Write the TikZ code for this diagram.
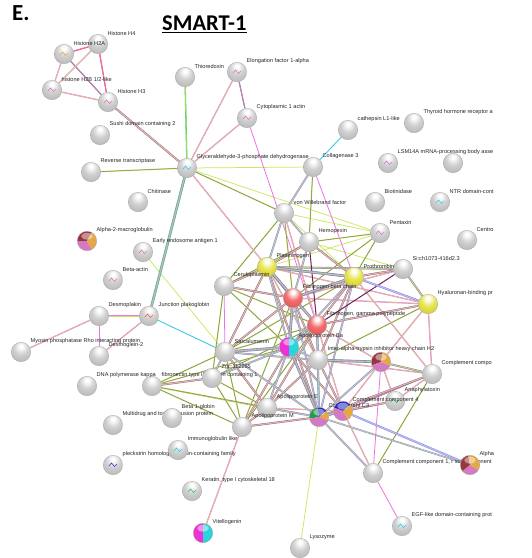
\documentclass[tikz,border=0pt]{standalone}
\usepackage{fontspec}
\setsansfont{Liberation Sans}
\newfontfamily\titlefont{Carlito}
\pgfdeclarelayer{edgelayer}
\pgfdeclarelayer{labellayer}
\pgfdeclarelayer{toplabels}
\pgfsetlayers{edgelayer,labellayer,main,toplabels}
\definecolor{pinkE}{RGB}{238,115,228}
\definecolor{limeE}{RGB}{205,232,95}
\definecolor{cyanE}{RGB}{60,202,234}
\definecolor{grayE}{RGB}{125,125,115}
\definecolor{greenE}{RGB}{50,200,90}
\definecolor{darkE}{RGB}{110,35,90}
\definecolor{lavE}{RGB}{150,150,232}
\definecolor{redE}{RGB}{235,90,90}
\definecolor{blueE}{RGB}{60,60,210}
\definecolor{gA}{RGB}{208,208,208}
\definecolor{gB}{RGB}{182,182,182}
\definecolor{gC}{RGB}{135,135,135}
\definecolor{yA}{RGB}{232,230,82}
\definecolor{yB}{RGB}{208,204,46}
\definecolor{yC}{RGB}{150,145,30}
\definecolor{rA}{RGB}{242,112,112}
\definecolor{rB}{RGB}{225,80,80}
\definecolor{rC}{RGB}{170,50,50}
\definecolor{mag}{RGB}{236,50,212}
\definecolor{cya}{RGB}{40,212,222}
\definecolor{brn}{RGB}{150,55,60}
\definecolor{org}{RGB}{228,168,70}
\definecolor{pnk}{RGB}{212,122,192}
\definecolor{grn}{RGB}{40,150,80}
\definecolor{blu}{RGB}{40,40,190}
\pgfdeclareradialshading{gsph}{\pgfpoint{0bp}{16bp}}{color(0bp)=(white); color(4bp)=(white); color(18bp)=(gA); color(36bp)=(gB); color(50bp)=(gC); color(70bp)=(gC)}
\pgfdeclareradialshading{ysph}{\pgfpoint{0bp}{16bp}}{color(0bp)=(white); color(4bp)=(white); color(18bp)=(yA); color(36bp)=(yB); color(50bp)=(yC); color(70bp)=(yC)}
\pgfdeclareradialshading{rsph}{\pgfpoint{0bp}{16bp}}{color(0bp)=(white); color(4bp)=(white); color(18bp)=(rA); color(36bp)=(rB); color(50bp)=(rC); color(70bp)=(rC)}
\newcommand\lblfont{\sffamily\fontsize{5.6}{6.5}\selectfont}
\newcommand\mklabel[2]{\node[lbl] (#1-t) at ([shift={(9.5,-10.5)}]#1.center) {#2};}
\newcommand\piesect[4]{\fill[#2] (#1.center) -- ([shift={(#3:14pt)}]#1.center) -- ([shift={({#3+(#4-#3)/4}:14pt)}]#1.center) -- ([shift={({#3+(#4-#3)/2}:14pt)}]#1.center) -- ([shift={({#3+3*(#4-#3)/4}:14pt)}]#1.center) -- ([shift={(#4:14pt)}]#1.center) -- cycle;}
\newcommand\piefin[1]{\fill[white, opacity=0.45] ([shift={(0,-4.8)}]#1.center) ellipse[x radius=5.8, y radius=3.4]; \draw[black!35, line width=0.3pt] (#1.center) circle[radius=9.75pt];}
\newcommand\nodeicon[2]{\draw[#2, line width=0.6pt, line cap=round] ([shift={(-4,1)}]#1.center) -- ([shift={(-1.5,-2)}]#1.center) -- ([shift={(1.5,1.5)}]#1.center) -- ([shift={(4,-1)}]#1.center);}
\begin{document}
\begin{tikzpicture}[x=1pt,y=-1pt,
  ball/.style={circle,minimum size=19.5pt,inner sep=0pt,shade,shading=gsph,draw=black!35,line width=0.3pt},
  yball/.style={ball,shading=ysph},
  rball/.style={ball,shading=rsph},
  pienode/.style={circle,minimum size=19.5pt,inner sep=0pt,fill=white},
  lbl/.style={anchor=west,inner sep=0pt,font=\lblfont,text=black!85},
  yl/.style={draw=limeE,line width=0.75pt},
  cy/.style={draw=cyanE,line width=0.9pt},
  pk/.style={draw=pinkE,line width=0.8pt},
  ky/.style={draw=limeE,line width=0.4pt,double=grayE,double distance=0.5pt},
  kp/.style={draw=grayE,line width=0.35pt,double=pinkE,double distance=0.5pt},
  rp/.style={draw=redE,line width=0.4pt,double=pinkE,double distance=0.5pt},
  gy/.style={draw=greenE,line width=0.4pt,double=limeE,double distance=0.5pt},
  py/.style={draw=pinkE,line width=0.4pt,double=limeE,double distance=0.45pt},
  pyk/.style={py,preaction={draw=grayE,line width=1.9pt}},
  pyc/.style={py,preaction={draw=cyanE,line width=1.9pt}},
  pyg/.style={py,preaction={draw=greenE,line width=1.9pt}},
  dk/.style={draw=darkE,line width=1pt},
  lav/.style={draw=lavE,line width=0.7pt,double=lavE!55!white,double distance=0.7pt},
  lavy/.style={draw=lavE,line width=0.6pt,double=limeE,double distance=0.5pt},
  full/.style={py,preaction={draw=grayE,line width=2.6pt},preaction={draw=cyanE,line width=1.9pt}},
  pgc/.style={py,preaction={draw=greenE,line width=2.6pt},preaction={draw=cyanE,line width=1.9pt}}
]
\useasboundingbox (0,0) rectangle (532,558);

% ---------- nodes ----------
\node[ball] (h2a) at (64,54) {};
\node[ball] (h4) at (98,44) {};
\node[ball] (h2b) at (52,90) {};
\node[ball] (h3) at (108,102) {};
\node[ball] (sushi) at (100,135) {};
\node[ball] (rt) at (91,172) {};
\node[ball] (gapdh) at (187,168) {};
\node[ball] (trx) at (185,77) {};
\node[ball] (ef1a) at (237,72) {};
\node[ball] (actin1) at (247,118) {};
\node[ball] (cath) at (348,130) {};
\node[ball] (thr) at (414,123) {};
\node[ball] (colg) at (313,167) {};
\node[ball] (lsm) at (388,163) {};
\node[ball] (nolab) at (453,163) {};
\node[ball] (chit) at (138,202) {};
\node[ball] (biot) at (375,202) {};
\node[ball] (ntr) at (440,202) {};
\node[ball] (vwf) at (284,213) {};
\node[ball] (pent) at (380,233) {};
\node[ball] (centro) at (467,240) {};
\node[ball] (hpx) at (309,242) {};
\node[pienode] (a2m) at (87,241) {};
\node[ball] (eea1) at (143,252) {};
\node[yball] (plg) at (267,267) {};
\node[ball] (sich) at (403,269) {};
\node[yball] (pt) at (354,277) {};
\node[ball] (bact) at (113,280) {};
\node[ball] (cp) at (224,286) {};
\node[rball] (fgb) at (293,298) {};
\node[yball] (habp) at (428,304) {};
\node[ball] (dsp) at (99,316) {};
\node[ball] (jup) at (149,316) {};
\node[rball] (fgg) at (317,325) {};
\node[pienode] (apoba) at (289,347) {};
\node[ball] (srl) at (225,352) {};
\node[ball] (mprip) at (21,352) {};
\node[ball] (dsg2) at (99,356) {};
\node[ball] (itih2) at (318,360) {};
\node[pienode] (browna) at (381,362) {};
\node[ball] (cc) at (432,374) {};
\node[ball] (zgc) at (212,378) {};
\node[ball] (fn) at (152,386) {};
\node[ball] (dnapk) at (87,386) {};
\node[ball] (apoe) at (267,408) {};
\node[pienode] (c4) at (343,411) {};
\node[pienode] (c3) at (319,417) {};
\node[ball] (ana) at (395,401) {};
\node[ball] (hbb) at (172,418) {};
\node[ball] (mate) at (113,425) {};
\node[ball] (apom) at (242,427) {};
\node[ball] (igl) at (178,450) {};
\node[ball] (plekh) at (113,465) {};
\node[ball] (c1r) at (373,473) {};
\node[pienode] (alpha) at (470,465) {};
\node[ball] (krt) at (192,491) {};
\node[pienode] (vtg) at (203,533) {};
\node[ball] (egf) at (402,526) {};
\node[ball] (lyz) at (300,548) {};

% ---------- labels hidden partly behind later nodes ----------
\begin{pgfonlayer}{labellayer}
\begin{scope}
\clip (0,0) rectangle (496,558);
\mklabel{fn}{fibronectin type III domain containing 1}
\mklabel{c3}{Complement C3}
\mklabel{mate}{Multidrug and toxin extrusion protein}
\mklabel{plekh}{pleckstrin homology domain-containing family}
\mklabel{c1r}{Complement component 1, r subcomponent}
\end{scope}
\end{pgfonlayer}

% ---------- labels on top ----------
\begin{pgfonlayer}{toplabels}
\begin{scope}
\clip (0,0) rectangle (496,558);
\mklabel{h2a}{Histone H2A}
\mklabel{h4}{Histone H4}
\mklabel{h2b}{histone H2B 1/2-like}
\mklabel{h3}{Histone H3}
\mklabel{sushi}{Sushi domain containing 2}
\mklabel{rt}{Reverse transcriptase}
\mklabel{gapdh}{Glyceraldehyde-3-phosphate dehydrogenase}
\mklabel{trx}{Thioredoxin}
\mklabel{ef1a}{Elongation factor 1-alpha}
\mklabel{actin1}{Cytoplasmic 1 actin}
\mklabel{cath}{cathepsin L1-like}
\mklabel{thr}{Thyroid hormone receptor a}
\mklabel{colg}{Collagenase 3}
\mklabel{lsm}{LSM14A mRNA-processing body asse}
\mklabel{chit}{Chitinase}
\mklabel{biot}{Biotinidase}
\mklabel{ntr}{NTR domain-cont}
\mklabel{vwf}{von Willebrand factor}
\mklabel{pent}{Pentaxin}
\mklabel{centro}{Centro}
\mklabel{hpx}{Hemopexin}
\mklabel{a2m}{Alpha-2-macroglobulin}
\mklabel{eea1}{Early endosome antigen 1}
\mklabel{plg}{Plasminogen}
\mklabel{sich}{Si:ch1073-416d2.3}
\mklabel{pt}{Prothrombin}
\mklabel{bact}{Beta-actin}
\mklabel{cp}{Ceruloplasmin}
\mklabel{fgb}{Fibrinogen beta chain}
\mklabel{habp}{Hyaluronan-binding pr}
\mklabel{dsp}{Desmoplakin}
\mklabel{jup}{Junction plakoglobin}
\mklabel{fgg}{Fibrinogen, gamma polypeptide}
\mklabel{apoba}{Apolipoprotein Ba}
\mklabel{srl}{Sarcalumenin}
\mklabel{mprip}{Myosin phosphatase Rho interacting protein}
\mklabel{dsg2}{Desmoglein-2}
\mklabel{itih2}{Inter-alpha-trypsin inhibitor heavy chain H2}
\mklabel{cc}{Complement compo}
\mklabel{zgc}{Zgc:112265}
\mklabel{dnapk}{DNA polymerase kappa}
\mklabel{apoe}{Apolipoprotein E}
\mklabel{c4}{Complement component 4}
\mklabel{ana}{Anaphylatoxin}
\mklabel{hbb}{Beta 1-globin}
\mklabel{apom}{Apolipoprotein M}
\mklabel{igl}{Immunoglobulin like}
\mklabel{alpha}{Alpha}
\mklabel{krt}{Keratin, type I cytoskeletal 18}
\mklabel{vtg}{Vitellogenin}
\mklabel{egf}{EGF-like domain-containing prot}
\mklabel{lyz}{Lysozyme}
\end{scope}
\end{pgfonlayer}

% ---------- edges ----------
\begin{pgfonlayer}{edgelayer}
\fill[white] (0,0) rectangle (532,558);
\foreach \p/\q in {gapdh/colg, gapdh/pent, vwf/pent, vwf/pt, hpx/sich, pent/plg, srl/eea1, c3/lyz}
  \draw[yl] (\p) -- (\q);
\foreach \p/\q in {colg/cath, srl/jup}
  \draw[cy] (\p) -- (\q);
\foreach \p/\q in {actin1/fgg, colg/pt, cp/srl, browna/c1r, c1r/egf, dsp/dsg2}
  \draw[pk] (\p) -- (\q);
\foreach \p/\q in {gapdh/rt, gapdh/vwf, colg/hpx, vwf/fgb, vwf/cp, hpx/pent, hpx/cp, pent/pt, pent/fgb, plg/zgc, pt/srl, habp/itih2, cp/fgg, cp/apoba, cp/zgc, fgb/apom, fgg/srl, fgg/zgc, fgg/apom, apoba/fn, srl/fn, srl/apom, cc/c1r, apoe/zgc, apoe/fn, apom/fn, apom/zgc, fn/c3}
  \draw[ky] (\p) -- (\q);
\foreach \p/\q in {h2a/h3, ef1a/actin1, cc/c4}
  \draw[kp] (\p) -- (\q);
\foreach \p/\q in {h2a/h4, h4/h3}
  \draw[rp] (\p) -- (\q);
\draw[gy] (gapdh) -- (trx);
\foreach \p/\q in {h2a/h2b, h4/h2b, h2b/h3, gapdh/ef1a, gapdh/actin1, gapdh/plg, vwf/fgg, plg/habp, plg/itih2, pt/cc, sich/fgb, habp/fgb, habp/cc, habp/browna, fgg/c4, fgg/browna, itih2/cc, browna/c4, browna/ana, cc/ana, c4/c1r, c3/ana, c4/apoe, apom/vtg, jup/dsg2, dsp/mprip}
  \draw[py] (\p) -- (\q);
\foreach \p/\q in {h3/gapdh, hpx/plg, hpx/pt, plg/cp, plg/srl, plg/c3, pt/sich, pt/fgg, pt/itih2, habp/fgg, cp/fgb, fgb/srl, fgb/itih2, fgg/itih2, fgg/apoe, apoba/apom, apoba/c4, srl/apoe, itih2/c4, itih2/apoe, cc/c3, c4/ana, c3/apom, apoe/apom, zgc/fn}
  \draw[pyk] (\p) -- (\q);
\foreach \p/\q in {colg/vwf, vwf/hpx, vwf/plg, hpx/fgb, plg/apoba, pt/apoba, pt/c3, fgb/c3, fgg/c3, apoba/itih2, apoba/apoe, apoba/zgc, srl/zgc, srl/c3, srl/itih2, itih2/c3, browna/c3, c3/c1r, c3/apoe, dsp/jup}
  \draw[pyc] (\p) -- (\q);
\foreach \p/\q in {plg/sich, sich/habp, browna/cc}
  \draw[pyg] (\p) -- (\q);
\foreach \p/\q in {hpx/fgg, sich/fgg, fgb/fgg}
  \draw[dk] (\p) -- (\q);
\foreach \p/\q in {pt/habp, c4/alpha}
  \draw[lav] (\p) -- (\q);
\draw[lavy] (c3) -- (alpha);
\draw[pgc] (gapdh) -- (jup);
\foreach \p/\q in {plg/pt, plg/fgb, plg/fgg, pt/fgb, fgb/apoba, fgg/apoba, apoba/srl, itih2/browna, c3/c4, apoba/c3}
  \draw[full] (\p) -- (\q);
\end{pgfonlayer}

% ---------- pie / split nodes ----------
\begin{scope}\clip (a2m.center) circle[radius=9.75pt];
\piesect{a2m}{brn}{60}{180}\piesect{a2m}{pnk}{180}{300}\piesect{a2m}{org}{300}{420}
\end{scope}\piefin{a2m}
\begin{scope}\clip (browna.center) circle[radius=9.75pt];
\piesect{browna}{brn}{80}{200}\piesect{browna}{pnk}{200}{340}\piesect{browna}{org}{340}{440}
\end{scope}\piefin{browna}
\begin{scope}\clip (alpha.center) circle[radius=9.75pt];
\piesect{alpha}{brn}{100}{220}\piesect{alpha}{pnk}{220}{330}\piesect{alpha}{org}{330}{460}
\end{scope}\piefin{alpha}
\begin{scope}\clip (c3.center) circle[radius=9.75pt];
\piesect{c3}{grn}{100}{190}\piesect{c3}{blu}{40}{100}\piesect{c3}{org}{340}{400}\piesect{c3}{pnk}{190}{340}
\end{scope}\piefin{c3}
\begin{scope}\clip (c4.center) circle[radius=9.75pt];
\piesect{c4}{blu}{40}{160}\piesect{c4}{pnk}{160}{300}\piesect{c4}{org}{300}{400}
\end{scope}\piefin{c4}
\begin{scope}\clip (apoba.center) circle[radius=9.75pt];
\piesect{apoba}{mag}{90}{270}\piesect{apoba}{cya}{270}{450}
\end{scope}\piefin{apoba}
\begin{scope}\clip (vtg.center) circle[radius=9.75pt];
\piesect{vtg}{mag}{90}{270}\piesect{vtg}{cya}{270}{450}
\end{scope}\piefin{vtg}

% ---------- small structure icons ----------
\nodeicon{h2a}{org}
\nodeicon{h2b}{pnk}
\nodeicon{h3}{pnk}
\nodeicon{gapdh}{cyanE}
\nodeicon{ef1a}{pnk}
\nodeicon{actin1}{pnk}
\nodeicon{lsm}{pnk}
\nodeicon{pent}{pnk}
\nodeicon{bact}{pnk}
\nodeicon{jup}{redE}
\nodeicon{eea1}{pnk}
\nodeicon{ntr}{cyanE}
\nodeicon{igl}{cyanE}
\nodeicon{plekh}{blueE}
\nodeicon{krt}{greenE}
\nodeicon{ana}{greenE}
\nodeicon{egf}{cyanE}

% ---------- titles ----------
\node[anchor=base west,inner sep=0pt,font=\titlefont\bfseries\fontsize{23}{26}\selectfont] (ttlE) at (12,20) {E.};
\node[anchor=base west,inner sep=0pt,font=\titlefont\bfseries\fontsize{22.5}{26}\selectfont] (ttl) at (162,30) {SMART-1};
\draw[line width=1.3pt] ([yshift=-2.6pt]ttl.base west) -- ([yshift=-2.6pt]ttl.base east);
\end{tikzpicture}
\end{document}
